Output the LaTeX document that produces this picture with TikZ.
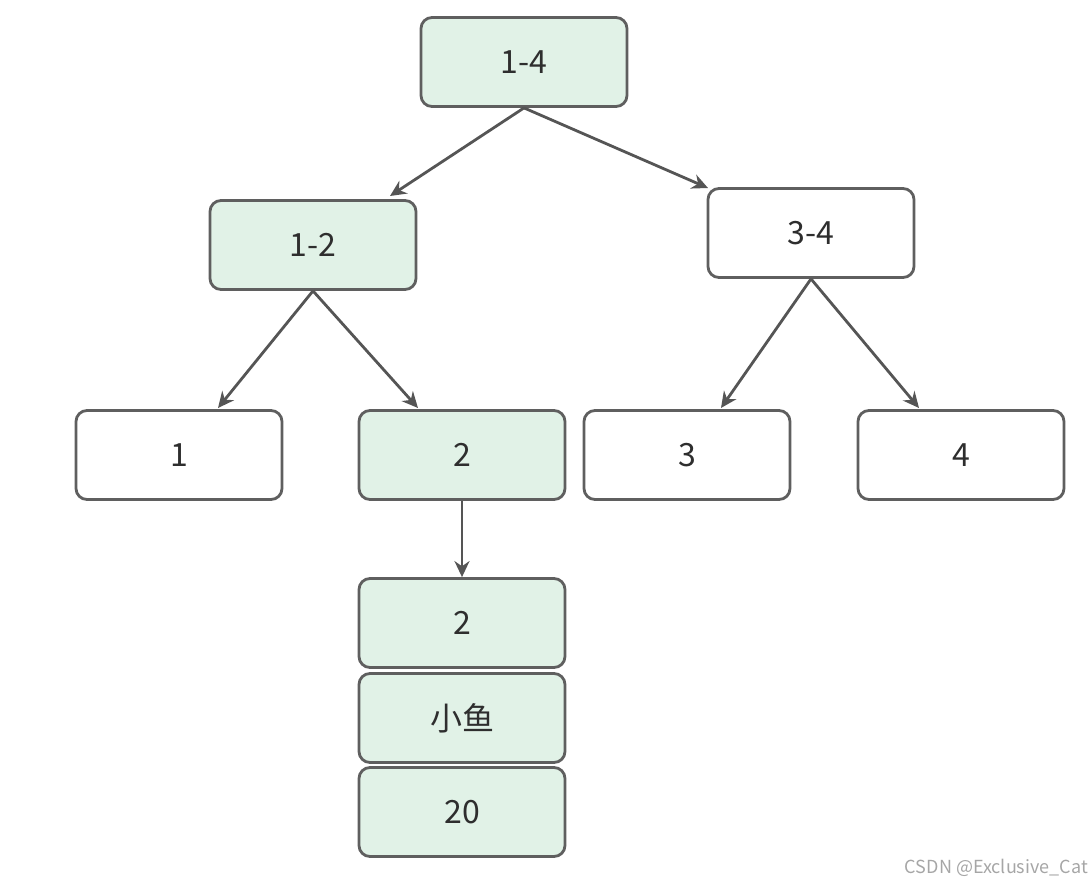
\documentclass[tikz,border=0pt]{standalone}
\usepackage{fontspec}
\setmainfont{Noto Sans CJK SC}
\usetikzlibrary{arrows.meta}
\definecolor{boxfill}{RGB}{225,242,231}
\definecolor{boxline}{RGB}{95,95,95}
\definecolor{arrowc}{RGB}{85,85,85}
\begin{document}
\begin{tikzpicture}[x=1pt,y=-1pt,
  box/.style={draw=boxline, line width=2.8pt, rounded corners=11pt, minimum width=206pt, minimum height=89pt, inner sep=0pt, font=\fontsize{32}{36}\selectfont, text=black!82},
  gbox/.style={box, fill=boxfill},
  wbox/.style={box, fill=white},
  arr/.style={draw=arrowc, line width=2.8pt, -{Stealth[length=16pt,width=15pt]}}]
\useasboundingbox (0,0) rectangle (1092,884);
\node[gbox] (n14) at (524,62) {\raisebox{-3pt}{1-4}};
\node[gbox] (n12) at (313,245) {\raisebox{-3pt}{1-2}};
\node[wbox] (n34) at (811,233) {\raisebox{-3pt}{3-4}};
\node[wbox] (n1) at (179,455) {\raisebox{-3pt}{1}};
\node[gbox] (n2) at (462,455) {\raisebox{-3pt}{2}};
\node[wbox] (n3) at (687,455) {\raisebox{-3pt}{3}};
\node[wbox] (n4) at (961,455) {\raisebox{-3pt}{4}};
\node[gbox] (d1) at (462,623) {\raisebox{-3pt}{2}};
\node[gbox] (d2) at (462,718) {\raisebox{-2pt}{小鱼}};
\node[gbox] (d3) at (462,812) {\raisebox{-3pt}{20}};
\coordinate (t12) at (390,196);
\coordinate (t34) at (708,188);
\coordinate (t1) at (218,408);
\coordinate (t2) at (418,408);
\coordinate (t3) at (721,408);
\coordinate (t4) at (919,408);
\draw[arr] (n14.south) -- (t12);
\draw[arr] (n14.south) -- (t34);
\draw[arr] (n12.south) -- (t1);
\draw[arr] (n12.south) -- (t2);
\draw[arr] (n34.south) -- (t3);
\draw[arr] (n34.south) -- (t4);
\draw[arr] (n2.south) -- (d1.north);
\node[anchor=base east, font=\fontsize{18}{20}\selectfont, text=black!35, inner sep=0pt] (wm) at (1088,873) {CSDN @Exclusive\_Cat};
\end{tikzpicture}
\end{document}
